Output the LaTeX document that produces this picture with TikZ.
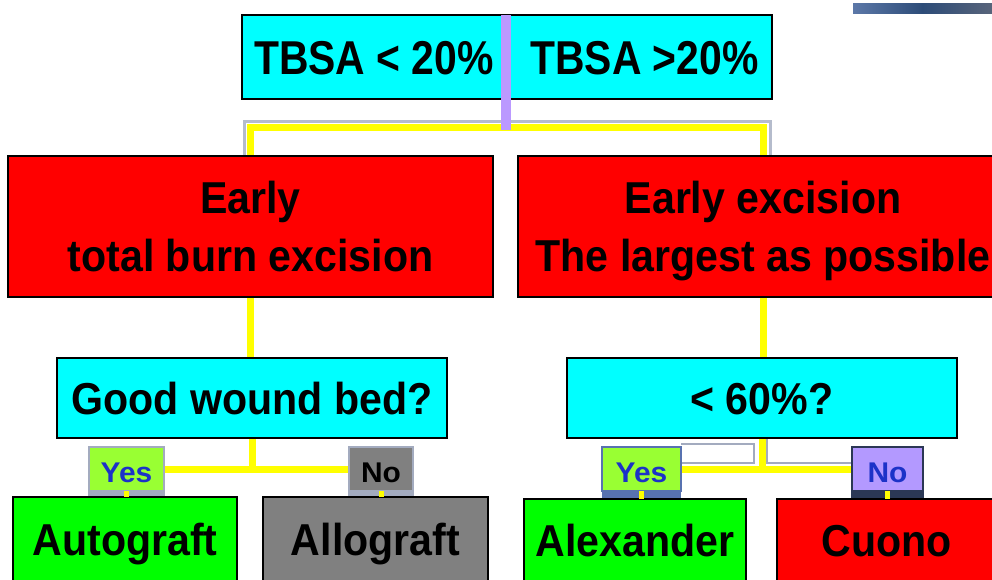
\documentclass[tikz,border=0pt]{standalone}
\usepackage{fontspec}
\setmainfont{Liberation Sans}
\newfontfamily\boxfont[FakeStretch=0.92]{Liberation Sans}
\newfontfamily\headfont[FakeStretch=0.86]{Liberation Sans}
\newfontfamily\tagfont[FakeStretch=1.05]{Liberation Sans}
\usetikzlibrary{calc}
\pgfdeclarelayer{bg}
\pgfsetlayers{bg,main}

\definecolor{cyanfill}{RGB}{0,255,255}
\definecolor{redfill}{RGB}{255,0,0}
\definecolor{greenfill}{RGB}{0,255,0}
\definecolor{grayfill}{RGB}{128,128,128}
\definecolor{yesfill}{RGB}{153,255,51}
\definecolor{nofill}{RGB}{179,153,255}
\definecolor{divider}{RGB}{187,153,255}
\definecolor{linkyellow}{RGB}{255,255,0}
\definecolor{labelblue}{RGB}{28,50,200}
\definecolor{edgegray}{RGB}{163,171,191}
\definecolor{edgeblue}{RGB}{88,114,176}
\definecolor{edgenavy}{RGB}{43,56,85}
\definecolor{barA}{RGB}{92,120,168}
\definecolor{barB}{RGB}{45,76,120}
\definecolor{barC}{RGB}{88,100,122}

\newcommand{\tagtext}[1]{\raisebox{-3pt}{#1}}

\tikzset{
  box/.style={draw=black, line width=2.5pt, inner sep=0pt, outer sep=0pt,
    anchor=north west, align=center,
    font=\boxfont\bfseries\fontsize{44.7pt}{58pt}\selectfont},
  onerow/.style={text height=32pt, text depth=0pt},
  headbox/.style={box, fill=cyanfill, onerow, text height=34pt,
    font=\headfont\bfseries\fontsize{47.5pt}{50pt}\selectfont},
  tag/.style={inner sep=0pt, outer sep=0pt, anchor=north west,
    line width=2pt, text height=20pt, text depth=0pt,
    font=\tagfont\bfseries\fontsize{28.5pt}{30pt}\selectfont},
  link/.style={draw=linkyellow, line width=7pt},
  stub/.style={draw=linkyellow, line width=5pt},
  rim/.style={draw=edgegray!80!white, line width=3pt},
  gline/.style={draw=edgegray, line width=1.5pt},
}

\begin{document}
\begin{tikzpicture}[x=1pt,y=-1pt]
\useasboundingbox (0,0) rectangle (992,579);
\clip (0,0) rectangle (992,579);

% header band in the top right corner
\shade[left color=barA, right color=barC, middle color=barB] (853,3) rectangle (992,13);

% header split into the two TBSA ranges
\node[headbox, minimum width=264pt, minimum height=84pt] (tl) at (242,15) {TBSA < 20\%};
\node[headbox, minimum width=266pt, minimum height=84pt] (tr) at (506,15) {\hspace*{11pt}TBSA >20\%};

% excision strategy
\node[box, fill=redfill, minimum width=485pt, minimum height=141pt] (lred) at (8,156)
  {Early\\total burn excision};
\node[box, fill=redfill, text depth=0pt, minimum width=490pt, minimum height=141pt] (rred) at (518,156)
  {Early excision\\The largest as possible};

% questions
\node[box, onerow, fill=cyanfill, minimum width=390pt, minimum height=80pt] (gwb) at (57,358) {Good wound bed?};
\node[box, onerow, fill=cyanfill, minimum width=390pt, minimum height=80pt] (lt60) at (567,358) {< 60\%?};

% answer tags
\node[tag, fill=yesfill, draw=edgegray, text=labelblue, minimum width=75pt, minimum height=44pt] (yesL) at (89,447) {\tagtext{Yes}};
\node[tag, fill=grayfill, draw=edgegray, text=black, minimum width=64pt, minimum height=44pt] (noL) at (349,447) {\tagtext{No}};
\node[tag, fill=yesfill, draw=edgeblue, text=labelblue, minimum width=79pt, minimum height=44pt] (yesR) at (602,447) {\tagtext{Yes}};
\node[tag, fill=nofill, draw=edgenavy, line width=2.5pt, text=labelblue, minimum width=71pt, minimum height=44pt] (noR) at (852,447) {\tagtext{No}};

% outcomes
\node[box, onerow, fill=greenfill, minimum width=224pt, minimum height=84pt] (auto) at (13,497) {Autograft};
\node[box, onerow, fill=grayfill, minimum width=225pt, minimum height=84pt] (allo) at (263,497) {Allograft};
\node[box, onerow, fill=greenfill, minimum width=222pt, minimum height=82pt] (alex) at (524,499) {Alexander};
\node[box, onerow, fill=redfill, minimum width=220pt, minimum height=82pt] (cuono) at (777,499) {Cuono};

\coordinate (split) at (506,130);

\begin{pgfonlayer}{bg}
  % outline behind the top bracket
  \draw[rim] ([xshift=-6.5pt]lred.north) -- ++(0,-35) -| ([xshift=7pt]rred.north);
  \draw[link] (lred.north) -- ++(0,-29) -| (rred.north);

  % thin outlines beside the right fork
  \draw[gline] ([yshift=3pt]yesR.north east) -- ++(73,0) -- ++(0,19) -- ++(-73,0);
  \draw[gline] ([xshift=5pt]lt60.south) -- ++(0,25) -- ([yshift=6pt]noR.west);

  % bands between the tags and the outcomes
  \fill[edgegray] ([xshift=-1pt]yesL.south west) rectangle ([xshift=1pt]auto.north -| yesL.east);
  \fill[edgegray] ([xshift=-1pt]noL.south west) rectangle ([xshift=1pt]allo.north -| noL.east);
  \fill[edgeblue] (yesR.south west) rectangle (alex.north -| yesR.east);
  \fill[edgenavy] ([xshift=-1pt]noR.south west) rectangle ([xshift=1pt]cuono.north -| noR.east);

  % vertical links
  \draw[link] (lred.south) -- (lred.south |- gwb.north);
  \draw[link] (rred.south) -- (rred.south |- lt60.north);

  % forks
  \draw[link] (gwb.south) -- (gwb.south |- yesL.east);
  \draw[link] (yesL.east) -- (noL.west);
  \draw[link] (lt60.south) -- (lt60.south |- yesR.east);
  \draw[link] (yesR.east) -- (noR.west);
\end{pgfonlayer}

% stubs from tags to outcomes
\draw[stub] (yesL.south) -- (auto.north -| yesL.south);
\draw[stub] (noL.south) -- (allo.north -| noL.south);
\draw[stub] (yesR.south) -- (alex.north -| yesR.south);
\draw[stub] (noR.south) -- (cuono.north -| noR.south);

% divider through the header down to the bracket
\draw[draw=divider, line width=10pt] (tl.north east) -- (split);
\end{tikzpicture}
\end{document}
